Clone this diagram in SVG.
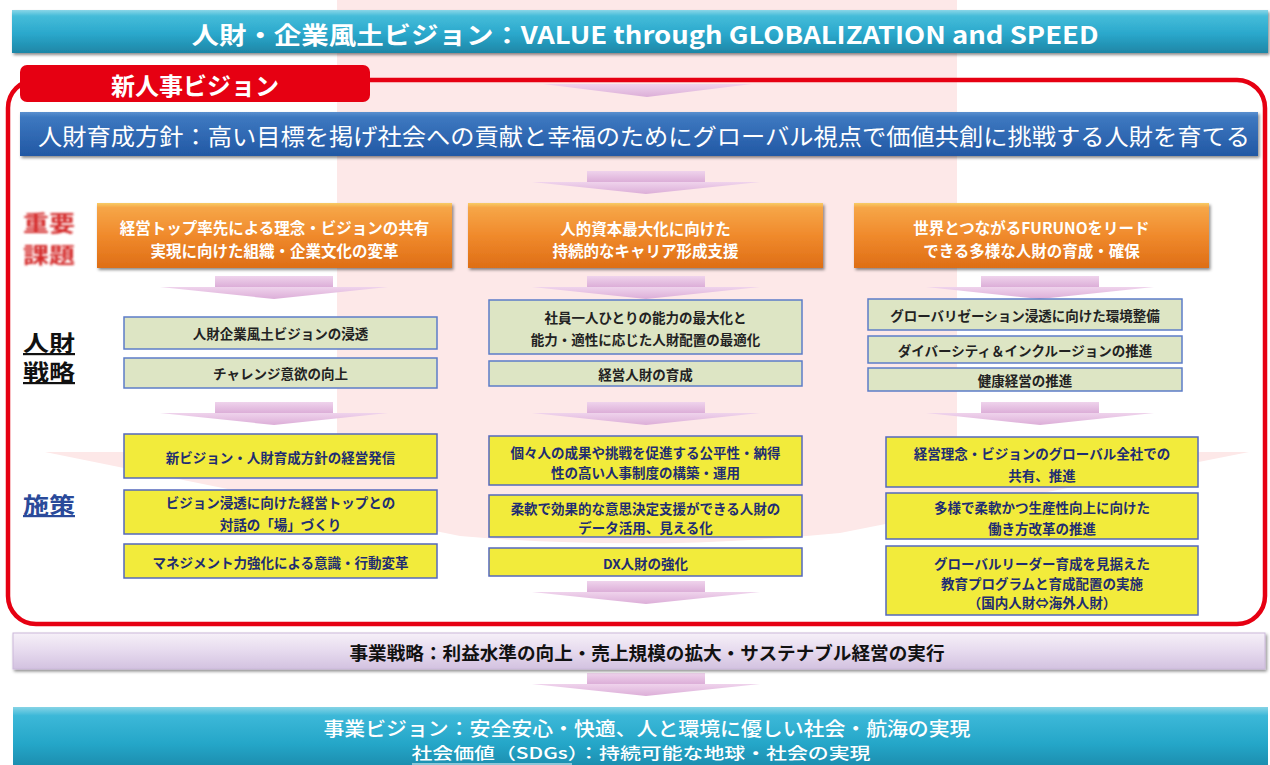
<svg xmlns="http://www.w3.org/2000/svg" width="1270" height="765" viewBox="0 0 1270 765">
<defs>
<style>
text{font-family:"Noto Sans CJK JP","Noto Sans CJK SC",sans-serif;}
.c{text-anchor:middle;dominant-baseline:central;}
.ot{fill:#fff;font-size:15.5px;font-weight:700;}
.gt{fill:#222;font-size:13.5px;font-weight:700;}
.yt{fill:#1f2d72;font-size:13.5px;font-weight:700;}
.orange{fill:url(#og);filter:url(#sh);}
.green{fill:#dde5c4;stroke:#5c7cc8;stroke-width:1.5;}
.yellow{fill:#f2eb3b;stroke:#5468bd;stroke-width:1.5;}
.arr{fill:url(#ag);}
.lbl{font-size:22px;font-weight:700;}
</style>
<linearGradient id="ag" x1="0" y1="0" x2="0" y2="1"><stop offset="0" stop-color="#efd3ec"/><stop offset="1" stop-color="#dcaed8"/></linearGradient>
<linearGradient id="og" x1="0" y1="0" x2="0" y2="1"><stop offset="0" stop-color="#f8cc66"/><stop offset="0.07" stop-color="#f6a648"/><stop offset="0.5" stop-color="#f08a2c"/><stop offset="1" stop-color="#de6e16"/></linearGradient>
<linearGradient id="tg" x1="0" y1="0" x2="0" y2="1"><stop offset="0" stop-color="#8ad6e8"/><stop offset="0.14" stop-color="#45bcd9"/><stop offset="0.55" stop-color="#2aa8cc"/><stop offset="1" stop-color="#1e86a6"/></linearGradient>
<linearGradient id="bg" x1="0" y1="0" x2="0" y2="1"><stop offset="0" stop-color="#5a90cf"/><stop offset="0.12" stop-color="#3d78c0"/><stop offset="1" stop-color="#2258a4"/></linearGradient>
<linearGradient id="lg" x1="0" y1="0" x2="0" y2="1"><stop offset="0" stop-color="#f6f0f8"/><stop offset="0.5" stop-color="#e6daee"/><stop offset="1" stop-color="#d3c2e0"/></linearGradient>
<linearGradient id="bb" x1="0" y1="0" x2="0" y2="1"><stop offset="0" stop-color="#86d4e6"/><stop offset="0.14" stop-color="#3cb8d8"/><stop offset="0.6" stop-color="#24a6c8"/><stop offset="1" stop-color="#1b8aab"/></linearGradient>
<filter id="sh" x="-5%" y="-20%" width="110%" height="150%"><feDropShadow dx="1.5" dy="2" stdDeviation="1.5" flood-color="#000" flood-opacity="0.45"/></filter>
<filter id="glow" x="-20%" y="-20%" width="140%" height="140%"><feGaussianBlur stdDeviation="0.8"/></filter>
<g id="arrow"><rect x="-59" y="0" width="118" height="11"/><polygon points="-114,11 114,11 0,23"/></g>
</defs>

<rect x="0" y="0" width="1270" height="765" fill="#fff"/>
<path d="M337,0 H957 V452 H1249 L840,533 Q647,552 460,536 L45,452 H337 Z" fill="#fde8e8"/>

<g id="top-banner">
<rect x="12" y="10" width="1256" height="43" fill="url(#tg)" filter="url(#sh)"/>
<text x="645" y="33" class="c" fill="#fff" font-size="24" font-weight="700" textLength="907" lengthAdjust="spacingAndGlyphs">人財・企業風土ビジョン：VALUE through GLOBALIZATION and SPEED</text>
</g>

<g id="connectors">
<polygon class="arr" points="543,84 752,84 647,97"/>
<use href="#arrow" class="arr" x="646" y="171"/>
<use href="#arrow" class="arr" x="274" y="276"/>
<use href="#arrow" class="arr" x="646" y="276"/>
<use href="#arrow" class="arr" x="1040" y="276"/>
<use href="#arrow" class="arr" x="274" y="402"/>
<use href="#arrow" class="arr" x="646" y="402"/>
<use href="#arrow" class="arr" x="1040" y="402"/>
<use href="#arrow" class="arr" x="646" y="581"/>
<use href="#arrow" class="arr" x="646" y="673"/>
</g>

<g id="hr-vision-frame">
<rect x="8" y="80" width="1257" height="544" rx="28" fill="none" stroke="#e60012" stroke-width="4.5"/>
<rect x="20" y="65" width="350" height="37" rx="7" fill="#e60012"/>
<text x="195" y="84" class="c" fill="#fff" font-size="24" font-weight="700">新人事ビジョン</text>
</g>

<g id="policy-banner">
<rect x="20" y="112" width="1238" height="44" fill="url(#bg)" filter="url(#sh)"/>
<text x="38" y="135" fill="#fff" font-size="23" dominant-baseline="central" textLength="1212" lengthAdjust="spacingAndGlyphs">人財育成方針：高い目標を掲げ社会への貢献と幸福のためにグローバル視点で価値共創に挑戦する人財を育てる</text>
</g>

<g id="label-issues">
<text x="23" y="231" class="lbl" fill="#d42a2a" filter="url(#glow)" textLength="52" lengthAdjust="spacingAndGlyphs">重要</text>
<text x="23" y="263" class="lbl" fill="#d42a2a" filter="url(#glow)" textLength="52" lengthAdjust="spacingAndGlyphs">課題</text>
</g>
<g id="label-strategy">
<text x="23" y="351" class="lbl" fill="#111" text-decoration="underline" textLength="52" lengthAdjust="spacingAndGlyphs">人財</text>
<text x="23" y="380" class="lbl" fill="#111" text-decoration="underline" textLength="52" lengthAdjust="spacingAndGlyphs">戦略</text>
</g>
<g id="label-measures">
<text x="23" y="513" class="lbl" fill="#2a4a9a" text-decoration="underline" textLength="52" lengthAdjust="spacingAndGlyphs">施策</text>
</g>

<g id="issue-1">
<rect x="97" y="203" width="355" height="65" class="orange"/>
<text x="274.5" y="227" class="c ot">経営トップ率先による理念・ビジョンの共有</text>
<text x="274.5" y="250" class="c ot">実現に向けた組織・企業文化の変革</text>
</g>
<g id="issue-2">
<rect x="468" y="203" width="355" height="65" class="orange"/>
<text x="645.5" y="228" class="c ot">人的資本最大化に向けた</text>
<text x="645.5" y="250" class="c ot">持続的なキャリア形成支援</text>
</g>
<g id="issue-3">
<rect x="854" y="203" width="355" height="65" class="orange"/>
<text x="1031.5" y="227" class="c ot">世界とつながるFURUNOをリード</text>
<text x="1031.5" y="250" class="c ot">できる多様な人財の育成・確保</text>
</g>

<g id="strategy-1-1">
<rect x="124" y="317" width="313" height="32" class="green"/>
<text x="280.5" y="333" class="c gt">人財企業風土ビジョンの浸透</text>
</g>
<g id="strategy-1-2">
<rect x="124" y="358" width="313" height="30" class="green"/>
<text x="280.5" y="373" class="c gt">チャレンジ意欲の向上</text>
</g>
<g id="strategy-2-1">
<rect x="489" y="300" width="313" height="54" class="green"/>
<text x="645.5" y="317" class="c gt">社員一人ひとりの能力の最大化と</text>
<text x="645.5" y="339" class="c gt">能力・適性に応じた人財配置の最適化</text>
</g>
<g id="strategy-2-2">
<rect x="489" y="361" width="313" height="25" class="green"/>
<text x="645.5" y="374" class="c gt">経営人財の育成</text>
</g>
<g id="strategy-3-1">
<rect x="868" y="299" width="314" height="31" class="green"/>
<text x="1025" y="315" class="c gt">グローバリゼーション浸透に向けた環境整備</text>
</g>
<g id="strategy-3-2">
<rect x="868" y="336" width="314" height="27" class="green"/>
<text x="1025" y="350" class="c gt">ダイバーシティ＆インクルージョンの推進</text>
</g>
<g id="strategy-3-3">
<rect x="868" y="368" width="314" height="23" class="green"/>
<text x="1025" y="380" class="c gt">健康経営の推進</text>
</g>

<g id="measure-1-1">
<rect x="124" y="434" width="313" height="44" class="yellow"/>
<text x="280.5" y="457" class="c yt">新ビジョン・人財育成方針の経営発信</text>
</g>
<g id="measure-1-2">
<rect x="124" y="490" width="313" height="44" class="yellow"/>
<text x="280.5" y="502" class="c yt">ビジョン浸透に向けた経営トップとの</text>
<text x="280.5" y="524" class="c yt">対話の「場」づくり</text>
</g>
<g id="measure-1-3">
<rect x="124" y="544" width="313" height="34" class="yellow"/>
<text x="280.5" y="562" class="c yt">マネジメント力強化による意識・行動変革</text>
</g>
<g id="measure-2-1">
<rect x="489" y="436" width="313" height="49" class="yellow"/>
<text x="645.5" y="452" class="c yt">個々人の成果や挑戦を促進する公平性・納得</text>
<text x="645.5" y="472" class="c yt">性の高い人事制度の構築・運用</text>
</g>
<g id="measure-2-2">
<rect x="489" y="495" width="313" height="42" class="yellow"/>
<text x="645.5" y="508" class="c yt">柔軟で効果的な意思決定支援ができる人財の</text>
<text x="645.5" y="527" class="c yt">データ活用、見える化</text>
</g>
<g id="measure-2-3">
<rect x="489" y="548" width="313" height="28" class="yellow"/>
<text x="645.5" y="563" class="c yt">DX人財の強化</text>
</g>
<g id="measure-3-1">
<rect x="886" y="437" width="312" height="50" class="yellow"/>
<text x="1042" y="453" class="c yt">経営理念・ビジョンのグローバル全社での</text>
<text x="1042" y="475" class="c yt">共有、推進</text>
</g>
<g id="measure-3-2">
<rect x="886" y="493" width="312" height="46" class="yellow"/>
<text x="1042" y="507" class="c yt">多様で柔軟かつ生産性向上に向けた</text>
<text x="1042" y="528" class="c yt">働き方改革の推進</text>
</g>
<g id="measure-3-3">
<rect x="886" y="546" width="312" height="69" class="yellow"/>
<text x="1042" y="563" class="c yt">グローバルリーダー育成を見据えた</text>
<text x="1042" y="583" class="c yt">教育プログラムと育成配置の実施</text>
<text x="1042" y="602" class="c yt">（国内人財⇔海外人財）</text>
</g>

<g id="business-strategy">
<rect x="13" y="633" width="1252" height="36" fill="url(#lg)" stroke="#cbb8da" stroke-width="1" filter="url(#sh)"/>
<text x="647" y="652" class="c" fill="#111" font-size="18" font-weight="700" textLength="595" lengthAdjust="spacingAndGlyphs">事業戦略：利益水準の向上・売上規模の拡大・サステナブル経営の実行</text>
</g>

<g id="business-vision">
<rect x="13" y="707" width="1255" height="62" fill="url(#bb)"/>
<text x="647" y="736" text-anchor="middle" fill="#fff" font-weight="500" font-size="19" textLength="647" lengthAdjust="spacingAndGlyphs">事業ビジョン：安全安心・快適、人と環境に優しい社会・航海の実現</text>
<text x="641" y="759" text-anchor="middle" fill="#fff" font-weight="500" font-size="16" textLength="459" lengthAdjust="spacingAndGlyphs">社会価値（SDGs）：持続可能な地球・社会の実現</text>
<line x1="412" y1="764" x2="572" y2="764" stroke="#fff" stroke-width="1"/>
</g>
</svg>
